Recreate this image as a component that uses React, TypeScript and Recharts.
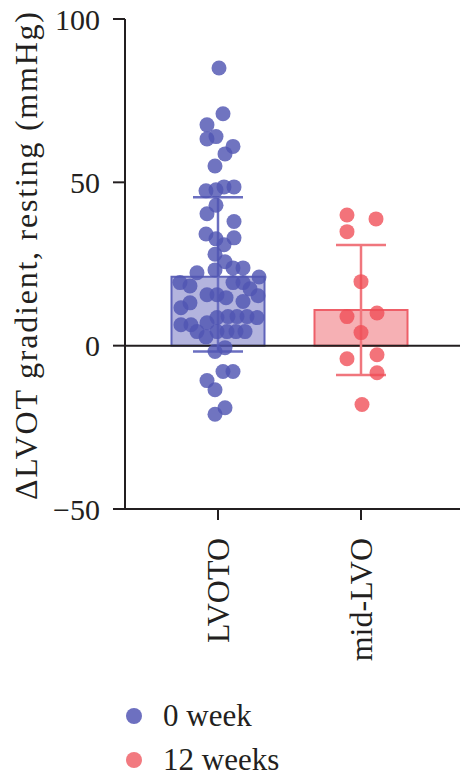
import React from 'react';
import {
  ComposedChart,
  Bar,
  ErrorBar,
  Scatter,
  XAxis,
  YAxis,
  ReferenceLine,
  Legend,
} from 'recharts';

// Groups along the x axis
const categories = ['LVOTO', 'mid-LVO'];
const seriesNames = ['0 week', '12 weeks'];

// Bar heights (mean) and error bar extents below / above the mean
const barMeans = [21.1, 10.9];
const errBelow = [22.9, 19.9];
const errAbove = [24.3, 19.9];

const yTicks = [-50, 0, 50, 100];

// Individual patients: jittered x position (group 1 or 2) and value
const lvotoPosX = [
  1.007, 1.035, 0.923, 0.923, 0.986, 1.105, 1.049, 0.979, 0.916, 0.986,
  1.042, 1.112, 0.986, 0.923, 1.112, 0.916, 0.986, 1.112, 1.042, 0.979,
  1.049, 1.105, 1.175, 0.853, 0.979, 1.287, 0.734, 0.804, 1.105, 1.175,
  1.224, 1.280, 0.923, 0.993, 1.056, 1.175, 0.804, 0.741, 0.993, 1.070,
  1.133, 1.203, 1.273, 0.741, 0.811, 0.923, 0.853, 0.993, 1.063, 1.126,
  1.189, 0.916, 0.979, 1.049, 1.035, 1.105, 0.923, 0.979, 1.049, 0.979,
];
const lvotoValues = [
  85, 71, 67.6, 63.3, 64, 61, 58.7, 55, 47.4, 47.7,
  48.6, 48.6, 43, 40.4, 38, 34.2, 32.7, 33, 30.9, 28,
  25.7, 23.8, 23.8, 22.3, 23.2, 21, 19.3, 18.3, 19.3, 19.3,
  17.4, 15.3, 15.6, 15.6, 14.7, 13.5, 13.1, 11.6, 8.6, 8.9,
  8.9, 8.9, 8.6, 6.4, 6.4, 7, 4.3, 4.3, 4.3, 4.3,
  4.3, 2.7, -1.8, -0.6, -7.9, -7.9, -10.7, -13.5, -19, -21,
];
const midPosX = [1.902, 2.105, 1.902, 2.0, 1.902, 2.112, 2.0, 1.902, 2.112, 2.112, 2.007];
const midValues = [40, 38.8, 34.9, 19.6, 8.9, 10, 4, -4, -2.8, -8.3, -18];

const barData = categories.map((name, i) => ({
  name,
  week0: i === 0 ? barMeans[i] : undefined,
  week0Err: i === 0 ? [errBelow[i], errAbove[i]] : undefined,
  week12: i === 1 ? barMeans[i] : undefined,
  week12Err: i === 1 ? [errBelow[i], errAbove[i]] : undefined,
}));

const lvotoPoints = lvotoPosX.map((x, i) => ({ x, y: lvotoValues[i] }));
const midPoints = midPosX.map((x, i) => ({ x, y: midValues[i] }));

const FONT = '"Liberation Serif", "Times New Roman", serif';
const INK = '#231f20';
const BLUE_DOT = 'rgb(80, 85, 178)';
const RED_DOT = 'rgb(239, 76, 84)';
const LEGEND_COLORS = ['#6d70c0', '#f27a80'];
const AXIS_PAD = { left: 21.5, right: 27.5 };

const dot = (color: string, opacity: number) => (props: any) =>
  <circle cx={props.cx} cy={props.cy} r={7.5} fill={color} fillOpacity={opacity} />;

const formatTick = (v: number) => String(v).replace('-', '\u2212');

const CategoryTick = (props: any) => {
  const { x, y, payload } = props;
  return (
    <text
      x={x}
      y={y}
      transform={`rotate(-90, ${x}, ${y})`}
      textAnchor="end"
      dy="0.33em"
      fontFamily={FONT}
      fontSize={32}
      fill={INK}
    >
      {payload.value}
    </text>
  );
};

const YLabel = (props: any) => {
  const vb = props.viewBox || { x: 0, y: 0, height: 0 };
  const cx = vb.x + 26;
  const cy = vb.y + vb.height / 2 - 8;
  return (
    <text
      x={cx}
      y={cy}
      transform={`rotate(-90, ${cx}, ${cy})`}
      textAnchor="middle"
      dy="0.33em"
      fontFamily={FONT}
      fontSize={32}
      textLength={488}
      lengthAdjust="spacing"
      fill={INK}
    >
      ΔLVOT gradient, resting (mmHg)
    </text>
  );
};

const LegendBox = () => (
  <div style={{ fontFamily: FONT, fontSize: 31, color: INK }}>
    {seriesNames.map((n, i) => (
      <div key={n} style={{ display: 'flex', alignItems: 'center', height: 44 }}>
        <svg width={18} height={18} style={{ display: 'block' }}>
          <circle cx={9} cy={9} r={8} fill={LEGEND_COLORS[i]} />
        </svg>
        <span style={{ marginLeft: 20, lineHeight: '44px' }}>{n}</span>
      </div>
    ))}
  </div>
);

export default function App() {
  return (
    <div style={{ position: 'absolute', left: 0, top: 0, width: 460, height: 780, background: '#fff' }}>
      <ComposedChart
        width={460}
        height={780}
        data={barData}
        margin={{ top: 19, right: 0, bottom: 0, left: 0 }}
        barGap={-93}
      >
        <XAxis
          xAxisId="cat"
          dataKey="name"
          type="category"
          padding={AXIS_PAD}
          height={271}
          axisLine={{ stroke: INK, strokeWidth: 2 }}
          tickLine={{ stroke: INK, strokeWidth: 2 }}
          tickSize={11}
          tickMargin={18}
          tick={<CategoryTick />}
          interval={0}
        />
        <XAxis
          xAxisId="pts"
          dataKey="x"
          type="number"
          domain={[0.5, 2.5]}
          padding={AXIS_PAD}
          hide
        />
        <YAxis
          type="number"
          domain={[-50, 100]}
          ticks={yTicks}
          width={125}
          axisLine={{ stroke: INK, strokeWidth: 2 }}
          tickLine={{ stroke: INK, strokeWidth: 2 }}
          tickSize={12}
          tickMargin={13}
          tickFormatter={formatTick}
          tick={{ fontFamily: FONT, fontSize: 30, fill: INK }}
          label={{ content: <YLabel /> }}
        />
        <ReferenceLine xAxisId="cat" y={0} stroke={INK} strokeWidth={2} ifOverflow="extendDomain" />
        <Bar
          xAxisId="cat"
          dataKey="week0"
          name={seriesNames[0]}
          barSize={93}
          fill="#b3b4de"
          stroke="#5f63b9"
          strokeWidth={2}
          isAnimationActive={false}
        >
          <ErrorBar dataKey="week0Err" width={25} stroke="#6a6ec0" strokeWidth={2.5} />
        </Bar>
        <Bar
          xAxisId="cat"
          dataKey="week12"
          name={seriesNames[1]}
          barSize={93}
          fill="#f6b0b4"
          stroke="#ee5f68"
          strokeWidth={2}
          isAnimationActive={false}
        >
          <ErrorBar dataKey="week12Err" width={25} stroke="#f0767d" strokeWidth={2.5} />
        </Bar>
        <Scatter
          xAxisId="pts"
          dataKey="y"
          data={lvotoPoints}
          shape={dot(BLUE_DOT, 0.82)}
          isAnimationActive={false}
        />
        <Scatter
          xAxisId="pts"
          dataKey="y"
          data={midPoints}
          shape={dot(RED_DOT, 0.78)}
          isAnimationActive={false}
        />
        <Legend
          layout="horizontal"
          verticalAlign="middle"
          align="center"
          wrapperStyle={{ top: 694, left: 125, width: 240, height: 88 }}
          content={<LegendBox />}
        />
      </ComposedChart>
    </div>
  );
}
